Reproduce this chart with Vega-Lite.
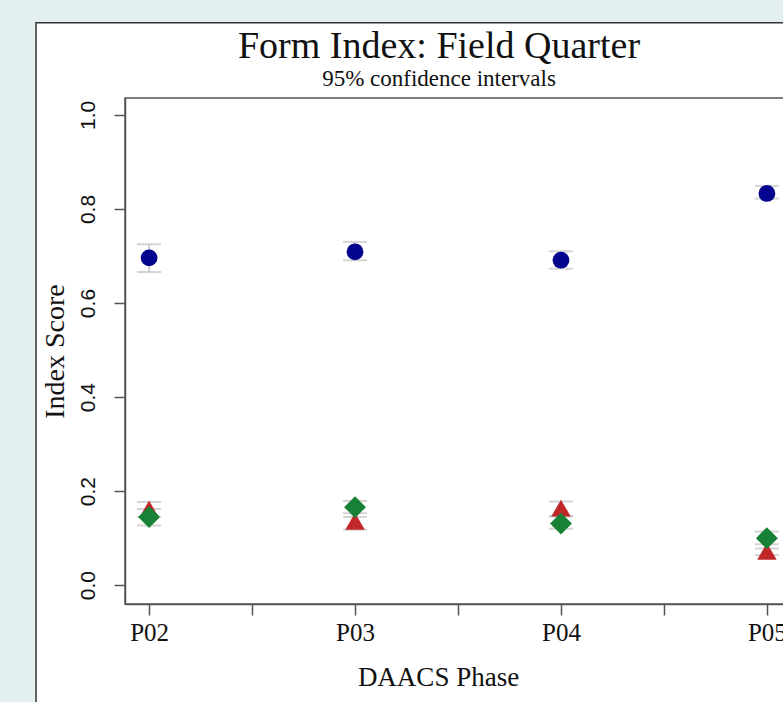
{
  "$schema": "https://vega.github.io/schema/vega-lite/v6.json",
  "background": "#e4eff0",
  "padding": {"left": 35, "top": 22, "right": 0, "bottom": 0},
  "width": 666,
  "height": 506,
  "title": {
    "text": "Form Index: Field Quarter",
    "subtitle": "95% confidence intervals",
    "font": "Liberation Serif",
    "fontSize": 38,
    "fontWeight": "normal",
    "color": "#111111",
    "subtitleFont": "Liberation Serif",
    "subtitleFontSize": 23,
    "subtitleColor": "#111111",
    "subtitlePadding": 2,
    "anchor": "middle",
    "frame": "group",
    "dx": -19,
    "offset": -69
  },
  "config": {"view": {"stroke": null}},
  "datasets": {
    "ci": [
      {"phase": 2, "group": "g1", "est": 0.696, "lo": 0.666, "hi": 0.725},
      {"phase": 3, "group": "g1", "est": 0.709, "lo": 0.691, "hi": 0.730},
      {"phase": 4, "group": "g1", "est": 0.691, "lo": 0.673, "hi": 0.710},
      {"phase": 5, "group": "g1", "est": 0.833, "lo": 0.822, "hi": 0.849},
      {"phase": 2, "group": "g2", "est": 0.162, "lo": 0.145, "hi": 0.177},
      {"phase": 3, "group": "g2", "est": 0.136, "lo": 0.118, "hi": 0.145},
      {"phase": 4, "group": "g2", "est": 0.164, "lo": 0.146, "hi": 0.178},
      {"phase": 5, "group": "g2", "est": 0.072, "lo": 0.064, "hi": 0.078},
      {"phase": 2, "group": "g3", "est": 0.145, "lo": 0.127, "hi": 0.162},
      {"phase": 3, "group": "g3", "est": 0.166, "lo": 0.153, "hi": 0.179},
      {"phase": 4, "group": "g3", "est": 0.131, "lo": 0.120, "hi": 0.147},
      {"phase": 5, "group": "g3", "est": 0.100, "lo": 0.087, "hi": 0.114}
    ]
  },
  "data": {"name": "ci"},
  "layer": [
    {
      "data": {"values": [{}]},
      "mark": {"type": "rect", "fill": "white", "stroke": "#333333", "strokeWidth": 1.5},
      "encoding": {
        "x": {
          "datum": 1.451,
          "type": "quantitative",
          "title": "DAACS Phase",
          "scale": {"domain": [1.883, 5.117], "nice": false, "zero": false},
          "axis": {
            "title": "DAACS Phase",
            "values": [2, 2.5, 3, 3.5, 4, 4.5, 5],
            "labelExpr": "datum.value % 1 === 0 ? 'P0' + datum.value : ''",
            "labelFont": "Liberation Serif",
            "labelFontSize": 25,
            "labelColor": "#111111",
            "labelPadding": 5,
            "labelFlush": false,
            "labelOverlap": false,
            "tickSize": 11,
            "tickColor": "#555555",
            "tickWidth": 1.5,
            "domainColor": "#555555",
            "domainWidth": 1.5,
            "grid": false,
            "titleFont": "Liberation Serif",
            "titleFontSize": 27,
            "titleFontWeight": "normal",
            "titleColor": "#111111",
            "titlePadding": 19,
            "titleX": 313,
            "zindex": 1
          }
        },
        "x2": {"datum": 8},
        "y": {
          "datum": 1.196,
          "type": "quantitative",
          "title": "Index Score",
          "scale": {"domain": [-0.04, 1.036], "nice": false, "zero": false},
          "axis": {
            "title": "Index Score",
            "values": [0, 0.2, 0.4, 0.6, 0.8, 1.0],
            "format": ".1f",
            "labelFont": "Liberation Sans",
            "labelFontSize": 21,
            "labelAngle": -90,
            "labelColor": "#111111",
            "labelPadding": 16,
            "labelFlush": false,
            "tickSize": 11,
            "tickColor": "#555555",
            "tickWidth": 1.5,
            "domainColor": "#555555",
            "domainWidth": 1.5,
            "grid": false,
            "titleFont": "Liberation Serif",
            "titleFontSize": 28,
            "titleFontWeight": "normal",
            "titleColor": "#111111",
            "titlePadding": 8,
            "zindex": 1
          }
        },
        "y2": {"datum": -0.8}
      }
    },
    {
      "data": {"values": [{}]},
      "mark": {"type": "rect", "fill": null, "stroke": "#555555", "strokeWidth": 1.5},
      "encoding": {
        "x": {"datum": 1.883, "type": "quantitative", "title": "DAACS Phase"},
        "x2": {"datum": 5.117},
        "y": {"datum": -0.04, "type": "quantitative", "title": "Index Score"},
        "y2": {"datum": 1.036}
      }
    },
    {
      "mark": {
        "type": "errorbar",
        "color": "#c2c2c2",
        "ticks": {"size": 24, "thickness": 2},
        "rule": {"strokeWidth": 1.5}
      },
      "encoding": {
        "x": {"field": "phase", "type": "quantitative", "title": "DAACS Phase"},
        "y": {"field": "lo", "type": "quantitative", "title": "Index Score"},
        "y2": {"field": "hi"}
      }
    },
    {
      "mark": {"type": "point", "filled": true, "opacity": 1, "strokeWidth": 0},
      "encoding": {
        "x": {"field": "phase", "type": "quantitative", "title": "DAACS Phase"},
        "y": {"field": "est", "type": "quantitative", "title": "Index Score"},
        "shape": {
          "field": "group",
          "type": "nominal",
          "scale": {"domain": ["g1", "g2", "g3"], "range": ["circle", "triangle-up", "diamond"]},
          "legend": null
        },
        "color": {
          "field": "group",
          "type": "nominal",
          "scale": {"domain": ["g1", "g2", "g3"], "range": ["#04048e", "#c0282a", "#178236"]},
          "legend": null
        },
        "size": {
          "field": "group",
          "type": "ordinal",
          "scale": {"domain": ["g1", "g2", "g3"], "range": [280, 480, 400]},
          "legend": null
        }
      }
    }
  ]
}
